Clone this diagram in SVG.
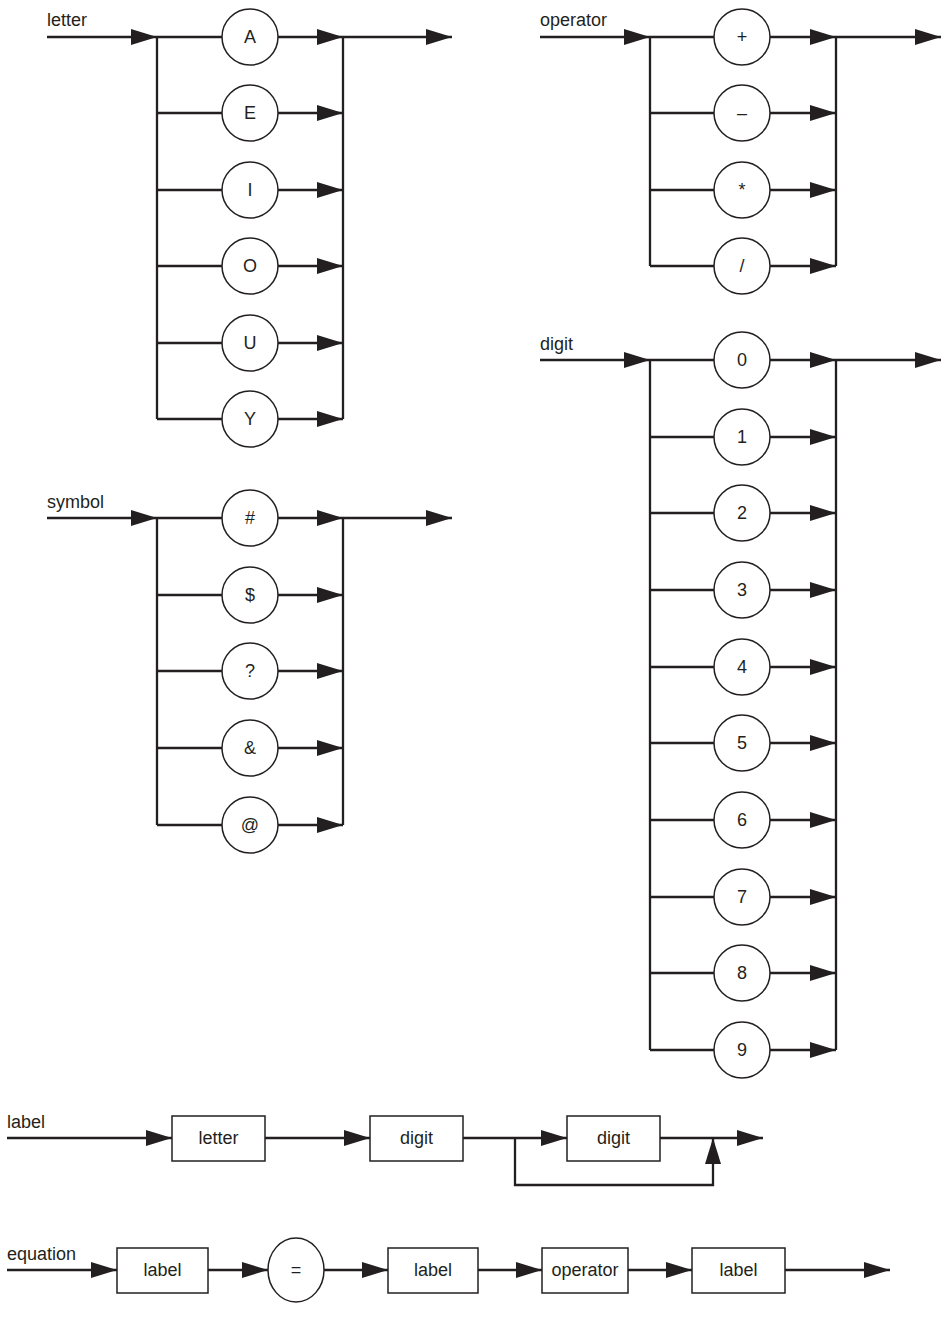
<svg xmlns="http://www.w3.org/2000/svg" width="941" height="1331" viewBox="0 0 941 1331">
<style>
.l{stroke:#231f20;stroke-width:2.3;fill:none}
.a{marker-end:url(#ah)}
.n{fill:#fff;stroke:#231f20;stroke-width:1.5}
text{font-family:"Liberation Sans",Arial,sans-serif;font-size:18px;fill:#231f20}
.c{text-anchor:middle;dominant-baseline:central}
</style>
<defs>
<marker id="ah" markerUnits="userSpaceOnUse" markerWidth="26" markerHeight="16" refX="26" refY="8" orient="auto"><polygon points="0,0 26,8 0,16" fill="#231f20"/></marker>
</defs>
<rect width="941" height="1331" fill="#fff"/>
<g id="connectors">
<!-- letter -->
<path class="l a" d="M47 37H157"/>
<path class="l" d="M157 37V419M343 37V419"/>
<path class="l a" d="M343 37H452"/>
<g id="letter-rows">
<path class="l" d="M157 37H222M157 113H222M157 190H222M157 266H222M157 343H222M157 419H222"/>
<path class="l a" d="M278 37H343"/><path class="l a" d="M278 113H343"/><path class="l a" d="M278 190H343"/><path class="l a" d="M278 266H343"/><path class="l a" d="M278 343H343"/><path class="l a" d="M278 419H343"/>
</g>
<!-- symbol -->
<path class="l a" d="M47 518H157"/>
<path class="l" d="M157 518V825M343 518V825"/>
<path class="l a" d="M343 518H452"/>
<path class="l" d="M157 518H222M157 595H222M157 671H222M157 748H222M157 825H222"/>
<path class="l a" d="M278 518H343"/><path class="l a" d="M278 595H343"/><path class="l a" d="M278 671H343"/><path class="l a" d="M278 748H343"/><path class="l a" d="M278 825H343"/>
<!-- operator -->
<path class="l a" d="M540 37H650"/>
<path class="l" d="M650 37V266M836 37V266"/>
<path class="l a" d="M836 37H941"/>
<path class="l" d="M650 37H714M650 113H714M650 190H714M650 266H714"/>
<path class="l a" d="M770 37H836"/><path class="l a" d="M770 113H836"/><path class="l a" d="M770 190H836"/><path class="l a" d="M770 266H836"/>
<!-- digit -->
<path class="l a" d="M540 360H650"/>
<path class="l" d="M650 360V1050M836 360V1050"/>
<path class="l a" d="M836 360H941"/>
<path class="l" d="M650 360H714M650 437H714M650 513H714M650 590H714M650 667H714M650 743H714M650 820H714M650 897H714M650 973H714M650 1050H714"/>
<path class="l a" d="M770 360H836"/><path class="l a" d="M770 437H836"/><path class="l a" d="M770 513H836"/><path class="l a" d="M770 590H836"/><path class="l a" d="M770 667H836"/><path class="l a" d="M770 743H836"/><path class="l a" d="M770 820H836"/><path class="l a" d="M770 897H836"/><path class="l a" d="M770 973H836"/><path class="l a" d="M770 1050H836"/>
<!-- label -->
<path class="l a" d="M7 1138H172"/>
<path class="l a" d="M265 1138H370"/>
<path class="l a" d="M463 1138H567"/>
<path class="l a" d="M660 1138H763"/>
<path class="l a" d="M515 1138V1185H713V1138"/>
<!-- equation -->
<path class="l a" d="M7 1270H117"/>
<path class="l a" d="M208 1270H268"/>
<path class="l a" d="M324 1270H388"/>
<path class="l a" d="M478 1270H542"/>
<path class="l a" d="M628 1270H692"/>
<path class="l a" d="M785 1270H890"/>
</g>
<g id="titles">
<text x="47" y="26">letter</text>
<text x="47" y="508">symbol</text>
<text x="540" y="26">operator</text>
<text x="540" y="350">digit</text>
<text x="7" y="1128">label</text>
<text x="7" y="1260">equation</text>
</g>
<g id="letter-nodes">
<g id="nA"><circle class="n" cx="250" cy="37" r="28"/><text class="c" x="250" y="37">A</text></g>
<g id="nE"><circle class="n" cx="250" cy="113" r="28"/><text class="c" x="250" y="113">E</text></g>
<g id="nI"><circle class="n" cx="250" cy="190" r="28"/><text class="c" x="250" y="190">I</text></g>
<g id="nO"><circle class="n" cx="250" cy="266" r="28"/><text class="c" x="250" y="266">O</text></g>
<g id="nU"><circle class="n" cx="250" cy="343" r="28"/><text class="c" x="250" y="343">U</text></g>
<g id="nY"><circle class="n" cx="250" cy="419" r="28"/><text class="c" x="250" y="419">Y</text></g>
</g>
<g id="symbol-nodes">
<g id="nHash"><circle class="n" cx="250" cy="518" r="28"/><text class="c" x="250" y="518">#</text></g>
<g id="nDollar"><circle class="n" cx="250" cy="595" r="28"/><text class="c" x="250" y="595">$</text></g>
<g id="nQ"><circle class="n" cx="250" cy="671" r="28"/><text class="c" x="250" y="671">?</text></g>
<g id="nAmp"><circle class="n" cx="250" cy="748" r="28"/><text class="c" x="250" y="748">&amp;</text></g>
<g id="nAt"><circle class="n" cx="250" cy="825" r="28"/><text class="c" x="250" y="825">@</text></g>
</g>
<g id="operator-nodes">
<g id="nPlus"><circle class="n" cx="742" cy="37" r="28"/><text class="c" x="742" y="37">+</text></g>
<g id="nMinus"><circle class="n" cx="742" cy="113" r="28"/><text class="c" x="742" y="113">–</text></g>
<g id="nStar"><circle class="n" cx="742" cy="190" r="28"/><text class="c" x="742" y="190">*</text></g>
<g id="nSlash"><circle class="n" cx="742" cy="266" r="28"/><text class="c" x="742" y="266">/</text></g>
</g>
<g id="digit-nodes">
<g id="d0"><circle class="n" cx="742" cy="360" r="28"/><text class="c" x="742" y="360">0</text></g>
<g id="d1"><circle class="n" cx="742" cy="437" r="28"/><text class="c" x="742" y="437">1</text></g>
<g id="d2"><circle class="n" cx="742" cy="513" r="28"/><text class="c" x="742" y="513">2</text></g>
<g id="d3"><circle class="n" cx="742" cy="590" r="28"/><text class="c" x="742" y="590">3</text></g>
<g id="d4"><circle class="n" cx="742" cy="667" r="28"/><text class="c" x="742" y="667">4</text></g>
<g id="d5"><circle class="n" cx="742" cy="743" r="28"/><text class="c" x="742" y="743">5</text></g>
<g id="d6"><circle class="n" cx="742" cy="820" r="28"/><text class="c" x="742" y="820">6</text></g>
<g id="d7"><circle class="n" cx="742" cy="897" r="28"/><text class="c" x="742" y="897">7</text></g>
<g id="d8"><circle class="n" cx="742" cy="973" r="28"/><text class="c" x="742" y="973">8</text></g>
<g id="d9"><circle class="n" cx="742" cy="1050" r="28"/><text class="c" x="742" y="1050">9</text></g>
</g>
<g id="label-nodes">
<g id="bLetter"><rect class="n" x="172" y="1116" width="93" height="45"/><text class="c" x="218.5" y="1138">letter</text></g>
<g id="bDigit1"><rect class="n" x="370" y="1116" width="93" height="45"/><text class="c" x="416.5" y="1138">digit</text></g>
<g id="bDigit2"><rect class="n" x="567" y="1116" width="93" height="45"/><text class="c" x="613.5" y="1138">digit</text></g>
</g>
<g id="equation-nodes">
<g id="bLabel1"><rect class="n" x="117" y="1248" width="91" height="45"/><text class="c" x="162.5" y="1270">label</text></g>
<g id="eEq"><ellipse class="n" cx="296" cy="1270" rx="28" ry="32"/><text class="c" x="296" y="1270">=</text></g>
<g id="bLabel2"><rect class="n" x="388" y="1248" width="90" height="45"/><text class="c" x="433" y="1270">label</text></g>
<g id="bOperator"><rect class="n" x="542" y="1248" width="86" height="45"/><text class="c" x="585" y="1270">operator</text></g>
<g id="bLabel3"><rect class="n" x="692" y="1248" width="93" height="45"/><text class="c" x="738.5" y="1270">label</text></g>
</g>
</svg>
